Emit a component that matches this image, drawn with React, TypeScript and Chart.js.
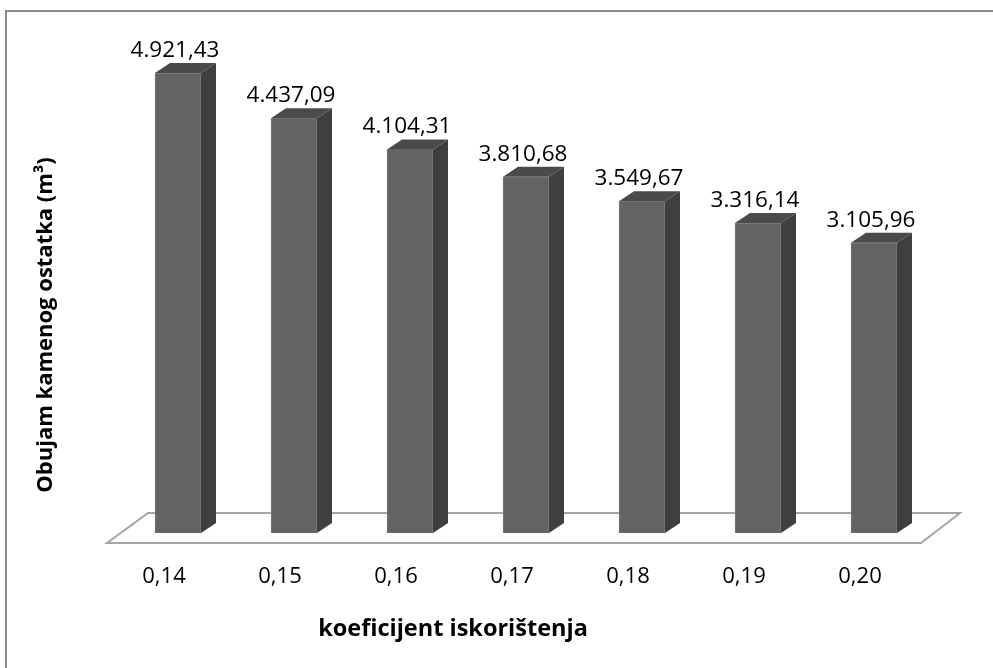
import React, { useEffect, useRef } from "react";
import { Chart, registerables } from "chart.js";

Chart.register(...registerables);

const categories: string[] = ["0,14", "0,15", "0,16", "0,17", "0,18", "0,19", "0,20"];
const volumes: number[] = [4921.43, 4437.09, 4104.31, 3810.68, 3549.67, 3316.14, 3105.96];
const valueLabels: string[] = ["4.921,43", "4.437,09", "4.104,31", "3.810,68", "3.549,67", "3.316,14", "3.105,96"];
const xTitle = "koeficijent iskorištenja";
const yTitle = "Obujam kamenog ostatka (m³)";

const FONT = "'Open Sans', 'Noto Sans', sans-serif";

const threeD = {
  id: "threeD",
  beforeDraw(chart: any) {
    const ctx = chart.ctx;
    ctx.save();
    ctx.fillStyle = "#ffffff";
    ctx.fillRect(0, 0, chart.width, chart.height);
    ctx.strokeStyle = "#8c8c8c";
    ctx.lineWidth = 2;
    ctx.beginPath();
    ctx.moveTo(6, chart.height);
    ctx.lineTo(6, 11);
    ctx.lineTo(chart.width, 11);
    ctx.stroke();
    ctx.restore();
  },
  beforeDatasetsDraw(chart: any) {
    const ctx = chart.ctx;
    const a = chart.chartArea;
    ctx.save();
    ctx.strokeStyle = "#a6a6a6";
    ctx.lineWidth = 2;
    ctx.fillStyle = "#ffffff";
    ctx.beginPath();
    ctx.moveTo(a.left - 13, a.bottom + 10);
    ctx.lineTo(a.right - 11, a.bottom + 10);
    ctx.lineTo(a.right + 28, a.bottom - 20);
    ctx.lineTo(a.left + 28, a.bottom - 20);
    ctx.closePath();
    ctx.fill();
    ctx.stroke();
    ctx.restore();
  },
  afterDatasetsDraw(chart: any) {
    const ctx = chart.ctx;
    const meta = chart.getDatasetMeta(0);
    const dx = 15;
    const dy = -10;
    ctx.save();
    meta.data.forEach((bar: any, i: number) => {
      const { x, y, base, width } = bar.getProps(["x", "y", "base", "width"], true);
      const l = x - width / 2;
      const r = x + width / 2;
      // side face
      ctx.fillStyle = "#3f3f3f";
      ctx.beginPath();
      ctx.moveTo(r, y);
      ctx.lineTo(r + dx, y + dy);
      ctx.lineTo(r + dx, base + dy);
      ctx.lineTo(r, base);
      ctx.closePath();
      ctx.fill();
      // top face
      ctx.fillStyle = "#4a4a4a";
      ctx.beginPath();
      ctx.moveTo(l, y);
      ctx.lineTo(l + dx, y + dy);
      ctx.lineTo(r + dx, y + dy);
      ctx.lineTo(r, y);
      ctx.closePath();
      ctx.fill();
      // value label
      ctx.fillStyle = "#000000";
      ctx.font = `22.5px ${FONT}`;
      ctx.textAlign = "center";
      ctx.textBaseline = "alphabetic";
      ctx.fillText(valueLabels[i], x - 3, y + dy - 6);
    });
    // axis titles
    ctx.fillStyle = "#000000";
    ctx.textAlign = "center";
    ctx.textBaseline = "middle";
    ctx.font = `bold 23.5px ${FONT}`;
    ctx.fillText(xTitle, 453, 629);
    ctx.font = `bold 22px ${FONT}`;
    ctx.translate(46, 325);
    ctx.rotate(-Math.PI / 2);
    ctx.fillText(yTitle, 0, 0);
    ctx.restore();
  },
};

export default function App() {
  const ref = useRef<HTMLCanvasElement | null>(null);
  useEffect(() => {
    if (!ref.current) return;
    const chart = new Chart(ref.current, {
      type: "bar",
      data: {
        labels: categories,
        datasets: [
          {
            data: volumes,
            backgroundColor: "#636363",
            borderColor: "#808080",
            borderWidth: 1,
            barThickness: 46,
          },
        ],
      },
      options: {
        responsive: false,
        animation: false,
        layout: { padding: { left: 120, right: 61, top: 19, bottom: 0 } },
        plugins: { legend: { display: false }, tooltip: { enabled: false } },
        scales: {
          x: {
            grid: { display: false, drawTicks: false },
            border: { display: false },
            ticks: {
              color: "#000000",
              font: { family: FONT, size: 22 },
              padding: 31,
              labelOffset: -14,
            },
            afterFit: (s: any) => {
              s.height = 135;
            },
          },
          y: { display: false, min: 0, max: 5500 },
        },
      },
      plugins: [threeD],
    });
    return () => chart.destroy();
  }, []);
  return (
    <div style={{ position: "fixed", left: 0, top: 0, width: 993, height: 668 }}>
      <canvas ref={ref} width={993} height={668} style={{ display: "block" }} />
    </div>
  );
}
